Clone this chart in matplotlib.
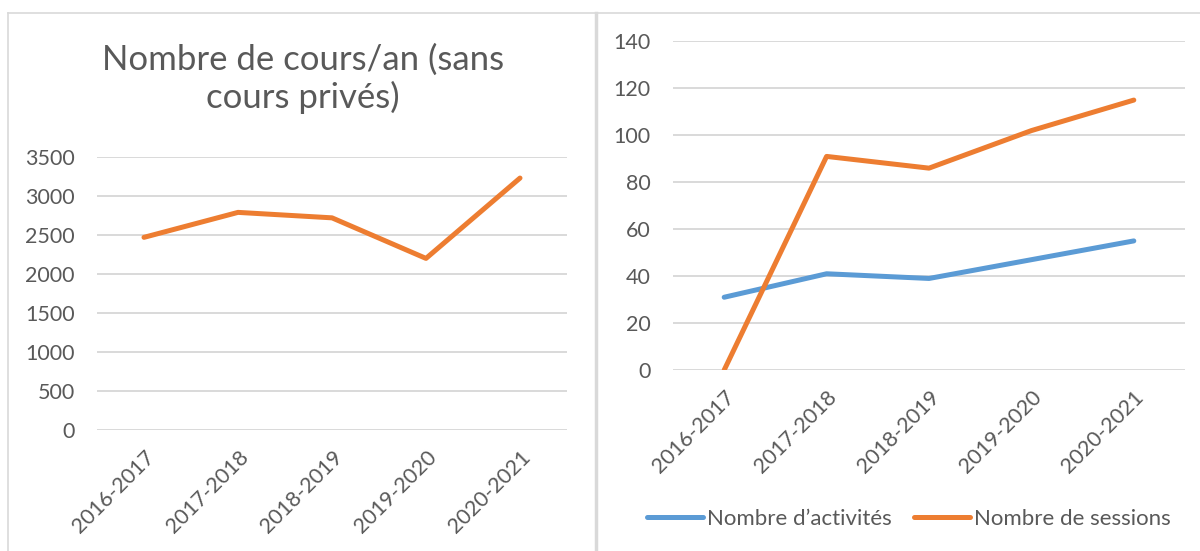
import matplotlib
matplotlib.use("Agg")
import matplotlib.pyplot as plt
from matplotlib.lines import Line2D

# data
annees = ["2016-2017", "2017-2018", "2018-2019", "2019-2020", "2020-2021"]
cours = [2470, 2790, 2720, 2200, 3230]
activites = [31, 41, 39, 47, 55]
sessions = [0, 91, 86, 102, 115]

ORANGE = "#ED7D31"
BLEU = "#5B9BD5"
GRIS = "#D9D9D9"
TEXTE = "#595959"

plt.rcParams["font.family"] = ["Lato", "DejaVu Sans"]

W, H = 1200, 551
fig = plt.figure(figsize=(W / 100, H / 100), dpi=100)


def px_axes(x0, x1, y0, y1):
    # pixel box -> figure fraction
    return fig.add_axes([x0 / W, 1 - y1 / H, (x1 - x0) / W, (y1 - y0) / H])


def style(ax, ymax, step):
    ax.set_xlim(-0.5, len(annees) - 0.5)
    ax.set_ylim(0, ymax)
    ax.set_yticks(range(0, ymax + 1, step))
    ax.set_xticks(range(len(annees)))
    ax.set_xticklabels(annees, rotation=45, ha="right", rotation_mode="anchor")
    ax.grid(axis="y", color=GRIS, lw=1.4)
    ax.set_axisbelow(True)
    for s in ax.spines.values():
        s.set_visible(False)
    ax.tick_params(length=0, labelsize=15.5, colors=TEXTE)
    ax.tick_params(axis="y", pad=16)
    ax.tick_params(axis="x", pad=12)


# panneau gauche
ax1 = px_axes(97, 567, 157, 430)
style(ax1, 3500, 500)
ax1.plot(range(len(annees)), cours, color=ORANGE, lw=3.6, solid_capstyle="round",
         solid_joinstyle="round")
fig.text(303 / W, 1 - 79 / H, "Nombre de cours/an (sans\ncours privés)", ha="center",
         va="center", fontsize=25, color=TEXTE, linespacing=1.2)

# panneau droit
ax2 = px_axes(673, 1185, 41.4, 370)
style(ax2, 140, 20)
ax2.plot(range(len(annees)), activites, color=BLEU, lw=3.6, solid_capstyle="round",
         solid_joinstyle="round", label="Nombre d’activités")
ax2.plot(range(len(annees)), sessions, color=ORANGE, lw=3.6, solid_capstyle="round",
         solid_joinstyle="round", label="Nombre de sessions")
leg = fig.legend(handles=ax2.get_lines(), loc="center", bbox_to_anchor=(909 / W, 1 - 519 / H),
                 ncol=2, frameon=False, fontsize=16, handlelength=2.5, handletextpad=0.2,
                 columnspacing=1.0, labelcolor=TEXTE)

# cadres
fig.add_artist(Line2D([8 / W, 1], [1 - 13 / H] * 2, color=GRIS, lw=1.2))
fig.add_artist(Line2D([8 / W] * 2, [0, 1 - 13 / H], color=GRIS, lw=1.2))
fig.add_artist(Line2D([596 / W] * 2, [0, 1 - 13 / H], color=GRIS, lw=2.5))

fig.savefig("out.png", dpi=100)
